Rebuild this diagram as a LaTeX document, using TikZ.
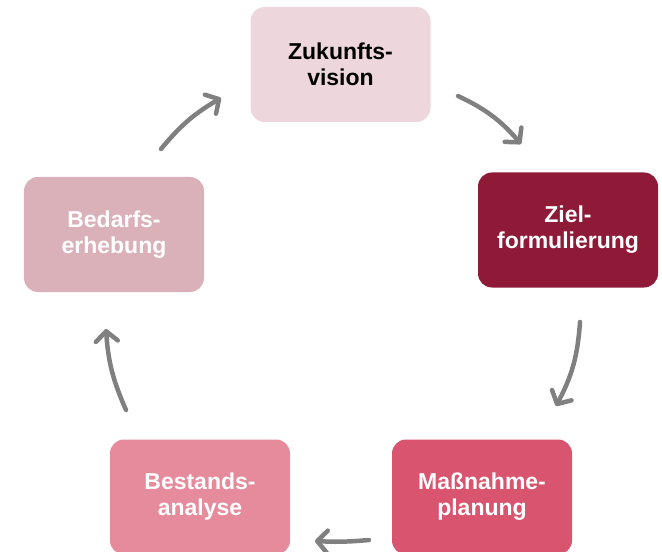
\documentclass[tikz,border=0pt]{standalone}
\usepackage{fontspec}
\setmainfont{Liberation Sans}
\usetikzlibrary{arrows.meta}
\definecolor{cZuk}{HTML}{EDD7DD}
\definecolor{cZiel}{HTML}{8E1A38}
\definecolor{cMass}{HTML}{D9546F}
\definecolor{cBest}{HTML}{E58B9C}
\definecolor{cBed}{HTML}{DBB1B9}
\definecolor{cArr}{HTML}{808080}
\tikzset{
  stepbox/.style={rectangle, rounded corners=14bp, minimum width=180bp, minimum height=115bp,
    align=center, font=\fontsize{23bp}{26bp}\selectfont\bfseries, inner sep=0pt},
  cyc/.style={draw=cArr, line width=4.5bp, line cap=round,
    -{Straight Barb[length=10bp, width=22bp, line width=4.5bp, round]}}
}
\begin{document}
\begin{tikzpicture}[x=1bp,y=-1bp]
\useasboundingbox (0,0) rectangle (662,552);
\node[stepbox, fill=cZuk, text=black] (zuk) at (340.5,64.5) {Zukunfts-\\vision};
\node[stepbox, fill=cZiel, text=white] (ziel) at (568,230) {Ziel-\\formulierung};
\node[stepbox, fill=cMass, text=white] (mass) at (482,497) {Maßnahme-\\planung};
\node[stepbox, fill=cBest, text=white] (best) at (200,497) {Bestands-\\analyse};
\node[stepbox, fill=cBed, text=white] (bed) at (114,234.5) {Bedarfs-\\erhebung};
\coordinate (a1s) at (458,96);  \coordinate (a1e) at (521,144);
\coordinate (a2s) at (580,322); \coordinate (a2e) at (556,406);
\coordinate (a3s) at (369,540); \coordinate (a3e) at (315,541);
\coordinate (a4s) at (126,410); \coordinate (a4e) at (106,329);
\coordinate (a5s) at (161,149); \coordinate (a5e) at (221,98);
\draw[cyc] (a1s) to[bend left=12] (a1e);
\draw[cyc] (a2s) to[bend left=12] (a2e);
\draw[cyc] (a3s) to[bend left=4] (a3e);
\draw[cyc] (a4s) to[bend left=10] (a4e);
\draw[cyc] (a5s) to[bend left=10] (a5e);
\end{tikzpicture}
\end{document}
